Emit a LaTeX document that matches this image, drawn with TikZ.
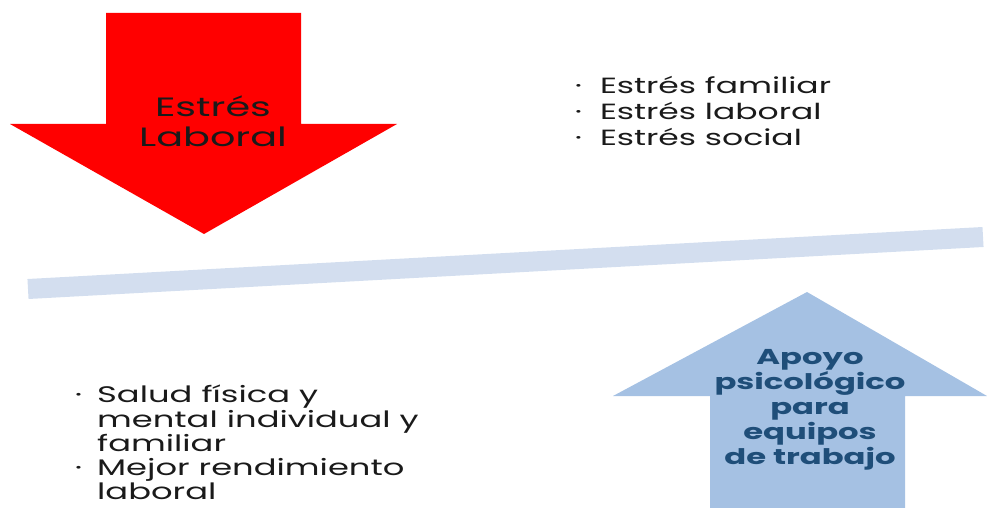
\documentclass[tikz,border=0pt]{standalone}
\usepackage{fontspec}
\setmainfont{Poppins}
\newfontfamily\ancha[FakeStretch=1.5]{Poppins}
\definecolor{rojo}{HTML}{FF0000}
\definecolor{azulflecha}{HTML}{A5C1E3}
\definecolor{azulbarra}{HTML}{D3DEEF}
\definecolor{azultexto}{HTML}{1F4E79}
\definecolor{gristexto}{HTML}{1A1A1A}
\tikzset{
  lista/.style={anchor=north west, inner sep=0pt, text=gristexto},
  rotulo/.style={align=center, inner sep=0pt}
}
\newcommand{\vineta}{\raisebox{0.35ex}{\scalebox{0.5}{\textbullet}}}
\begin{document}
\begin{tikzpicture}[x=1pt,y=-1pt]
  \useasboundingbox (0,0) rectangle (987,508);
  % flecha roja hacia abajo
  \fill[rojo](106,13)--(301,13)--(301,124)--(397,124)--(204,234)--(10,124)--(106,124)--cycle;
  \node[rotulo,text=gristexto,font=\ancha\fontsize{26.5}{30}\selectfont] (estres) at (213,121) {Estrés\\Laboral};
  % barra inclinada
  \draw[azulbarra,line width=20pt](28,289)--(983,237);
  % flecha azul hacia arriba
  \fill[azulflecha](807,292)--(987,396)--(905,396)--(905,508)--(710,508)--(710,396)--(613,396)--cycle;
  \node[rotulo,text=azultexto,font=\ancha\bfseries\fontsize{21.5}{25}\selectfont] (apoyo) at (810,410) {Apoyo\\psicológico\\para\\equipos\\de trabajo};
  % listas
  \node[lista,font=\ancha\fontsize{22}{26}\selectfont] (tipos) at (575,75) {%
    \begin{tabular}{@{}l@{\hspace{18pt}}l@{}}
      \vineta & Estrés familiar\\
      \vineta & Estrés laboral\\
      \vineta & Estrés social
    \end{tabular}};
  \node[lista,font=\ancha\fontsize{22.5}{24}\selectfont] (efectos) at (75,385) {%
    \begin{tabular}{@{}l@{\hspace{15pt}}l@{}}
      \vineta & Salud física y\\
              & mental individual y\\
              & familiar\\
      \vineta & Mejor rendimiento\\
              & laboral
    \end{tabular}};
\end{tikzpicture}
\end{document}
